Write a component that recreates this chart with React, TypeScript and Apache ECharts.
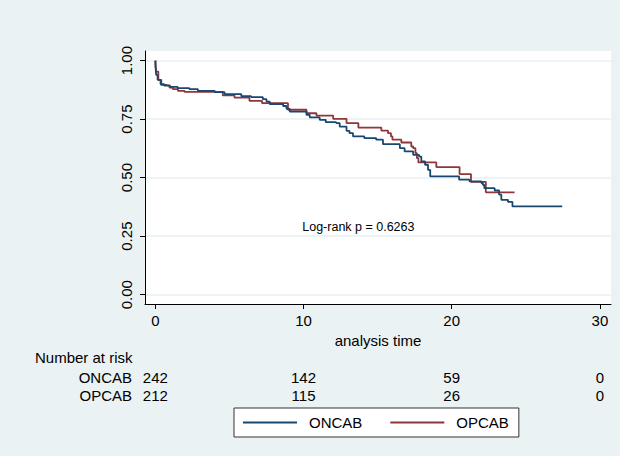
import React, { useEffect, useRef } from "react";
import * as echarts from "echarts";

// Kaplan-Meier estimates (time, survival)
const oncabTime = [0, 0.02, 0.05, 0.15, 0.35, 0.6, 1.0, 1.5, 2.3, 2.87, 4.0, 4.67, 5.8, 6.46, 7.25, 7.5, 7.72, 8.62, 8.85, 9.07, 10.2, 10.42, 11.09, 11.5, 12.2, 12.44, 12.9, 13.1, 13.34, 14.1, 14.9, 15.36, 16.5, 16.82, 17.4, 17.8, 17.95, 18.2, 18.4, 18.55, 20.5, 21.2, 22.0, 22.1, 22.2, 22.9, 23.2, 23.35, 23.8, 24.1, 27.46];
const oncabSurv = [1, 0.97, 0.939, 0.918, 0.899, 0.893, 0.888, 0.882, 0.878, 0.871, 0.865, 0.857, 0.848, 0.844, 0.835, 0.825, 0.814, 0.806, 0.794, 0.782, 0.768, 0.757, 0.747, 0.737, 0.733, 0.718, 0.7, 0.69, 0.676, 0.669, 0.662, 0.643, 0.626, 0.612, 0.597, 0.59, 0.569, 0.555, 0.533, 0.505, 0.491, 0.484, 0.477, 0.469, 0.455, 0.445, 0.427, 0.405, 0.396, 0.377, 0.377];

const opcabTime = [0, 0.02, 0.06, 0.2, 0.4, 0.7, 0.95, 1.18, 1.52, 1.97, 4.55, 5.34, 6.35, 7.2, 8.95, 10.2, 10.87, 12.0, 12.9, 13.7, 15.25, 15.7, 15.9, 16.0, 16.6, 17.27, 17.4, 17.55, 17.65, 17.75, 18.96, 20.53, 21.3, 22.3, 24.24];
const opcabSurv = [1, 0.97, 0.953, 0.918, 0.896, 0.893, 0.885, 0.878, 0.871, 0.866, 0.851, 0.842, 0.828, 0.818, 0.79, 0.775, 0.765, 0.751, 0.733, 0.714, 0.701, 0.69, 0.676, 0.662, 0.65, 0.633, 0.626, 0.605, 0.583, 0.565, 0.545, 0.515, 0.482, 0.437, 0.437];

const seriesNames = ["ONCAB", "OPCAB"];
const xTicks = [0, 10, 20, 30];
const yTicks = [0, 0.25, 0.5, 0.75, 1];
const riskTimes = [0, 10, 20, 30];
const oncabAtRisk = [242, 142, 59, 0];
const opcabAtRisk = [212, 115, 26, 0];
const logRankText = "Log-rank p = 0.6263";
const logRankPos = [13.7, 0.29];

const FONT = "'Liberation Sans', Arial, sans-serif";
const BG = "#eaf2f3";
const BLUE = "#1a476f";
const RED = "#90353b";

export default function App() {
  const ref = useRef<HTMLDivElement>(null);
  useEffect(() => {
    if (!ref.current) return;
    document.body.style.margin = "0";
    const chart = echarts.init(ref.current, undefined, { renderer: "svg" });
    const oncab = oncabTime.map((t, i) => [t, oncabSurv[i]]);
    const opcab = opcabTime.map((t, i) => [t, opcabSurv[i]]);
    chart.setOption({
      animation: false,
      backgroundColor: BG,
      textStyle: { fontFamily: FONT },
      grid: {
        left: 145,
        top: 51,
        width: 466,
        height: 253,
        show: true,
        backgroundColor: "#ffffff",
        borderWidth: 0,
      },
      xAxis: {
        type: "value",
        min: -0.7,
        max: 30.75,
        name: "analysis time",
        nameLocation: "middle",
        nameGap: 28,
        nameTextStyle: { fontSize: 15, color: "#000", fontFamily: FONT },
        axisLine: { show: true, onZero: false, lineStyle: { color: "#000", width: 1 } },
        axisTick: { show: true, length: 5, lineStyle: { color: "#000" }, customValues: xTicks },
        axisLabel: { fontSize: 15, color: "#000", margin: 9, fontFamily: FONT, customValues: xTicks },
        splitLine: { show: false },
      },
      yAxis: {
        type: "value",
        min: -0.04,
        max: 1.041,
        axisLine: { show: true, onZero: false, lineStyle: { color: "#000", width: 1 } },
        axisTick: { show: true, length: 5, lineStyle: { color: "#000" }, customValues: yTicks },
        axisLabel: {
          fontSize: 15,
          color: "#000",
          rotate: 90,
          margin: 11,
          fontFamily: FONT,
          customValues: yTicks,
          formatter: (v: number) => v.toFixed(2),
        },
        splitLine: { show: true, lineStyle: { color: "#e8f0f2", width: 1.5 } },
      },
      legend: {
        left: 234,
        top: 408,
        orient: "horizontal",
        backgroundColor: "#ffffff",
        borderColor: "#333",
        borderWidth: 1,
        borderRadius: 0,
        padding: [7, 10, 7, 9],
        itemWidth: 54,
        itemHeight: 2,
        itemGap: 28,
        icon: "rect",
        textStyle: { fontSize: 15, color: "#000", fontFamily: FONT, padding: [0, 0, 0, 7] },
        data: seriesNames,
      },
      series: [
        {
          name: seriesNames[0],
          type: "line",
          step: "end",
          symbol: "none",
          color: BLUE,
          lineStyle: { color: BLUE, width: 1.8 },
          data: oncab,
          z: 3,
        },
        {
          name: seriesNames[1],
          type: "line",
          step: "end",
          symbol: "none",
          color: RED,
          lineStyle: { color: RED, width: 1.8 },
          data: opcab,
          z: 2,
        },
      ],
    });

    const px = (t: number, s: number) => chart.convertToPixel({ gridIndex: 0 }, [t, s]) as number[];
    const graphics: any[] = [];
    const lr = px(logRankPos[0], logRankPos[1]);
    graphics.push({
      type: "text",
      x: lr[0],
      y: lr[1],
      style: { text: logRankText, fontSize: 12.5, fill: "#000", fontFamily: FONT, align: "center", verticalAlign: "middle" },
    });
    graphics.push({
      type: "text",
      x: 35,
      y: 357,
      style: { text: "Number at risk", fontSize: 15, fill: "#000", fontFamily: FONT, align: "left", verticalAlign: "middle" },
    });
    const rows = [
      { label: seriesNames[0], vals: oncabAtRisk, y: 377 },
      { label: seriesNames[1], vals: opcabAtRisk, y: 395 },
    ];
    rows.forEach((r) => {
      graphics.push({
        type: "text",
        x: 132,
        y: r.y,
        style: { text: r.label, fontSize: 15, fill: "#000", fontFamily: FONT, align: "right", verticalAlign: "middle" },
      });
      r.vals.forEach((v, i) => {
        const p = px(riskTimes[i], 0.5);
        graphics.push({
          type: "text",
          x: p[0],
          y: r.y,
          style: { text: String(v), fontSize: 15, fill: "#000", fontFamily: FONT, align: "center", verticalAlign: "middle" },
        });
      });
    });
    chart.setOption({ graphic: graphics });
    return () => chart.dispose();
  }, []);
  return <div ref={ref} style={{ position: "absolute", left: 0, top: 0, width: 620, height: 456 }} />;
}
